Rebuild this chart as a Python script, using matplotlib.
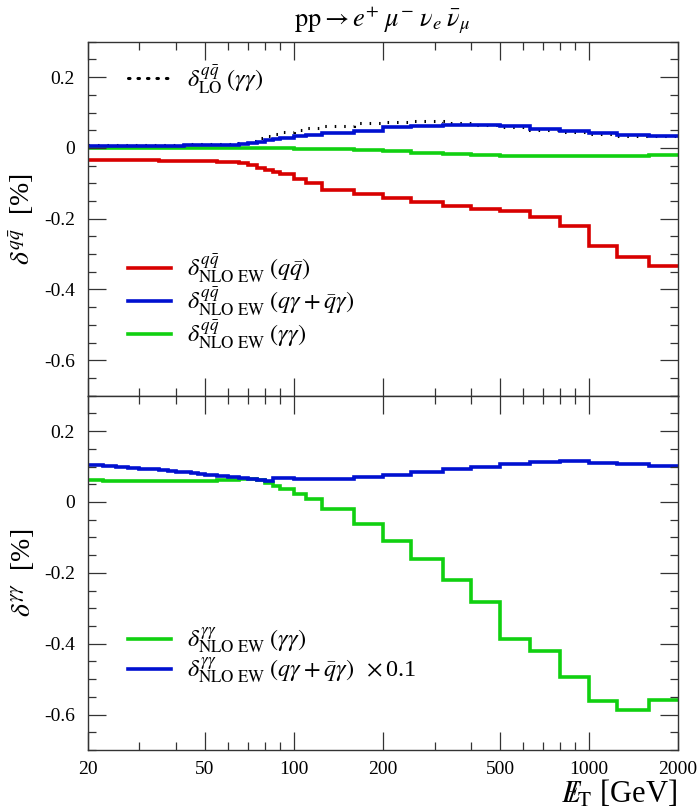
import matplotlib
matplotlib.use("Agg")
import matplotlib.pyplot as plt
from matplotlib.ticker import FixedLocator, NullFormatter, FuncFormatter, MultipleLocator
from matplotlib.lines import Line2D

plt.rcParams['font.family'] = ['Liberation Serif', 'DejaVu Serif']
plt.rcParams['mathtext.fontset'] = 'stix'
plt.rcParams['axes.unicode_minus'] = False

# ---------------- data ----------------
edges = [20, 22.5, 25, 27.5, 30, 32.5, 35, 37.5, 40, 42.5, 45, 47.5, 50, 55, 60, 65, 70, 75,
         80, 85, 90, 100, 110, 125, 160, 200, 250, 320, 400, 500, 630, 800, 1000, 1250, 1600, 2000]

lo_gg = [0.008, 0.008, 0.008, 0.008, 0.008, 0.009, 0.009, 0.009, 0.009, 0.009, 0.010, 0.010,
         0.010, 0.011, 0.012, 0.014, 0.020, 0.027, 0.034, 0.040, 0.046, 0.051, 0.056, 0.063,
         0.070, 0.074, 0.075, 0.071, 0.066, 0.058, 0.051, 0.046, 0.039, 0.035, 0.033]

nlo_qq = [-0.033, -0.034, -0.034, -0.035, -0.035, -0.035, -0.036, -0.036, -0.037, -0.037, -0.038, -0.038,
          -0.038, -0.039, -0.040, -0.044, -0.049, -0.056, -0.063, -0.069, -0.075, -0.087, -0.099, -0.118,
          -0.130, -0.142, -0.153, -0.164, -0.173, -0.178, -0.195, -0.220, -0.278, -0.308, -0.335]

nlo_qg = [0.006, 0.006, 0.006, 0.006, 0.006, 0.006, 0.006, 0.006, 0.006, 0.007, 0.007, 0.007,
          0.007, 0.007, 0.008, 0.010, 0.013, 0.017, 0.021, 0.026, 0.029, 0.034, 0.036, 0.041,
          0.049, 0.058, 0.063, 0.065, 0.065, 0.061, 0.054, 0.049, 0.041, 0.037, 0.035]

nlo_gg = [0.001, 0.001, 0.001, 0.001, 0.001, 0.001, 0.001, 0.001, 0.001, 0.001, 0.001, 0.001,
          0.001, 0.001, 0.001, 0.001, 0.0, 0.0, 0.0, -0.001, -0.001, -0.002, -0.002, -0.004,
          -0.007, -0.0095, -0.013, -0.016, -0.019, -0.024, -0.024, -0.024, -0.024, -0.023, -0.021]

gg_nlo_gg = [0.063, 0.059, 0.059, 0.059, 0.059, 0.059, 0.059, 0.059, 0.059, 0.060, 0.060, 0.060,
             0.060, 0.061, 0.062, 0.064, 0.065, 0.063, 0.054, 0.045, 0.036, 0.022, 0.008, -0.021,
             -0.062, -0.109, -0.162, -0.219, -0.283, -0.386, -0.420, -0.494, -0.5625, -0.586, -0.558]

gg_nlo_qg = [0.104, 0.101, 0.098, 0.096, 0.094, 0.092, 0.090, 0.088, 0.086, 0.084, 0.082, 0.080,
             0.077, 0.074, 0.071, 0.067, 0.064, 0.062, 0.060, 0.067, 0.067, 0.065, 0.064, 0.066,
             0.070, 0.0775, 0.086, 0.094, 0.100, 0.106, 0.1125, 0.116, 0.110, 0.107, 0.101]

xmajor = [20, 50, 100, 200, 500, 1000, 2000]
xminor = [30, 40, 60, 70, 80, 90, 300, 400, 600, 700, 800, 900]
xlabels = ['20', '50', '100', '200', '500', '1000', '2000']

lab_lo = r'$\delta^{q\bar{q}}_{\mathrm{LO}}\;(\gamma\gamma)$'
lab_qq = r'$\delta^{q\bar{q}}_{\mathrm{NLO\ EW}}\;(q\bar{q})$'
lab_qg = r'$\delta^{q\bar{q}}_{\mathrm{NLO\ EW}}\;(q\gamma + \bar{q}\gamma)$'
lab_gg = r'$\delta^{q\bar{q}}_{\mathrm{NLO\ EW}}\;(\gamma\gamma)$'
lab2_gg = r'$\delta^{\gamma\gamma}_{\mathrm{NLO\ EW}}\;(\gamma\gamma)$'
lab2_qg = r'$\delta^{\gamma\gamma}_{\mathrm{NLO\ EW}}\;(q\gamma + \bar{q}\gamma)\;\;\times$0.1'

RED = '#d80000'
BLUE = '#0010d0'
GREEN = '#10d010'
LW = 2.6
LEGFS = 17.5

# ---------------- figure ----------------
fig = plt.figure(figsize=(7, 8.1), dpi=100)
L, R = 0.125, 0.968
ax1 = fig.add_axes([L, 0.5115, R - L, 0.437])
ax2 = fig.add_axes([L, 0.074, R - L, 0.4375], sharex=ax1)


def style(ax, show_x):
    ax.set_xscale('log')
    ax.set_xlim(20, 2000)
    ax.set_ylim(-0.7, 0.3)
    ax.xaxis.set_major_locator(FixedLocator(xmajor))
    ax.xaxis.set_minor_locator(FixedLocator(xminor))
    ax.xaxis.set_minor_formatter(NullFormatter())
    if show_x:
        ax.xaxis.set_major_formatter(FuncFormatter(
            lambda v, p: xlabels[xmajor.index(int(round(v)))] if int(round(v)) in xmajor else ''))
    else:
        ax.tick_params(axis='x', which='both', labelbottom=False)
    ax.yaxis.set_major_locator(MultipleLocator(0.2))
    ax.yaxis.set_minor_locator(MultipleLocator(0.05))
    ax.yaxis.set_major_formatter(FuncFormatter(lambda v, p: '0' if abs(v) < 1e-9 else '%.1f' % v))
    ax.tick_params(which='both', direction='in', top=True, right=True, color='#333333', width=0.9,
                   labelsize=14)
    ax.tick_params(which='major', length=13)
    ax.tick_params(which='minor', length=6)
    ax.tick_params(axis='x', pad=8)
    ax.tick_params(axis='y', pad=9)
    for s in ax.spines.values():
        s.set_color('#333333')
        s.set_linewidth(1.0)


style(ax1, False)
style(ax2, True)

DOT = (0, (0.5, 2.6))

# top panel
ax1.stairs(lo_gg, edges, color='black', lw=2.2, linestyle=DOT, baseline=None)
ax1.stairs(nlo_gg, edges, color=GREEN, lw=LW, baseline=None)
ax1.stairs(nlo_qg, edges, color=BLUE, lw=LW, baseline=None)
ax1.stairs(nlo_qq, edges, color=RED, lw=LW, baseline=None)

leg_lo = Line2D([], [], color='black', lw=2.2, linestyle=DOT, dash_capstyle='round')
leg1 = ax1.legend([leg_lo], [lab_lo], loc='upper left', bbox_to_anchor=(0.068, 0.94),
                  frameon=False, fontsize=LEGFS, handlelength=1.8, handletextpad=0.65,
                  borderpad=0, borderaxespad=0)
ax1.add_artist(leg1)
hq = [Line2D([], [], color=c, lw=LW) for c in (RED, BLUE, GREEN)]
ax1.legend(hq, [lab_qq, lab_qg, lab_gg], loc='upper left', bbox_to_anchor=(0.068, 0.405),
           frameon=False, fontsize=LEGFS, handlelength=1.8, handletextpad=0.65,
           labelspacing=0.0, borderpad=0, borderaxespad=0)

ax1.set_ylabel(r'$\delta^{q\bar{q}}$  [%]', fontsize=20)
ax1.yaxis.set_label_coords(-0.088, 0.5)
ax1.set_title(r'$\mathrm{pp}\rightarrow e^{+}\;\mu^{-}\;\nu_{e}\;\bar{\nu}_{\mu}$', fontsize=19, pad=11)

# bottom panel
ax2.stairs(gg_nlo_gg, edges, color=GREEN, lw=LW, baseline=None)
ax2.stairs(gg_nlo_qg, edges, color=BLUE, lw=LW, baseline=None)
hb = [Line2D([], [], color=c, lw=LW) for c in (GREEN, BLUE)]
ax2.legend(hb, [lab2_gg, lab2_qg], loc='upper left', bbox_to_anchor=(0.068, 0.35),
           frameon=False, fontsize=LEGFS, handlelength=1.8, handletextpad=0.65,
           labelspacing=0.0, borderpad=0, borderaxespad=0)
ax2.set_ylabel(r'$\delta^{\gamma\gamma}$  [%]', fontsize=20)
ax2.yaxis.set_label_coords(-0.088, 0.5)
ax2.set_xlabel(r'$E\!\!\!/_{\mathrm{T}}$ [GeV]', fontsize=22, loc='right', labelpad=0)

fig.savefig('out.png', dpi=100)
